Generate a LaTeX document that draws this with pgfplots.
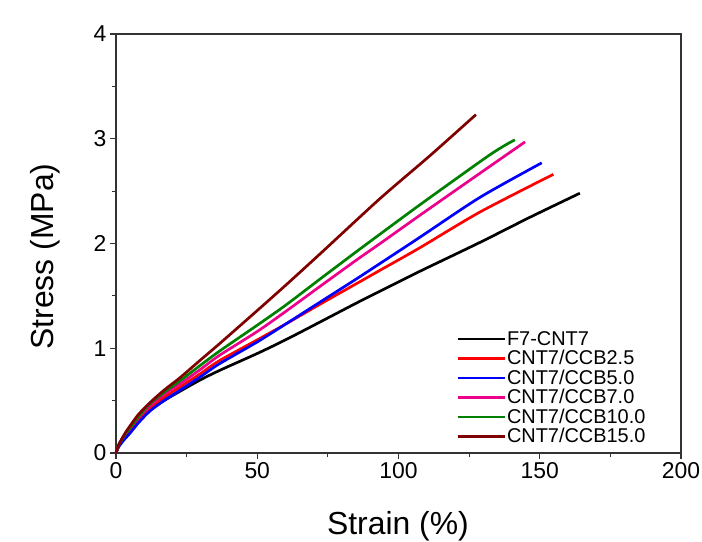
\documentclass[border=0pt]{standalone}
\usepackage{fontspec}
\setmainfont{Liberation Sans}
\usepackage{pgfplots}
\pgfplotsset{compat=1.18}
\definecolor{dgreen}{RGB}{0,128,0}
\definecolor{dbrown}{RGB}{128,0,0}
\begin{document}
\begin{tikzpicture}
\begin{axis}[
  name=ax,
  scale only axis,
  width=565bp, height=419bp,
  xmin=0, xmax=200, ymin=0, ymax=4,
  xtick={0,50,100,150,200}, ytick={0,1,2,3,4},
  minor xtick={25,75,125,175}, minor ytick={0.5,1.5,2.5,3.5},
  xtick pos=left, ytick pos=left,
  tick align=outside,
  major tick length=6bp, minor tick length=4bp,
  axis line style={line width=1.3pt, color=black!80},
  every tick/.style={line width=1.1pt, color=black!80},
  /pgf/number format/assume math mode=true,
  xticklabel={\pgfmathprintnumber{\tick}},
  yticklabel={\pgfmathprintnumber{\tick}},
  tick label style={font=\fontsize{23}{26}\selectfont},
  xlabel={Strain (\%)}, ylabel={Stress (MPa)},
  label style={font=\fontsize{32}{36}\selectfont},
  xlabel style={at={(rel axis cs:0.499,-0.174)}, anchor=center},
  ylabel style={at={(rel axis cs:-0.125,0.469)}, anchor=center},
  clip=false,
  legend style={at={(rel axis cs:0.602,0.296)}, anchor=north west, draw=none, fill=none,
    font=\fontsize{20}{22}\selectfont, inner sep=0pt, row sep=0pt,
    nodes={inner sep=1bp, minimum height=19.5bp}},
  legend cell align=left,
  legend image code/.code={\draw[#1] (0bp,0bp) -- (47bp,0bp);},
  curve/.style={line width=2.7pt, smooth, tension=0.45},
]
\addplot[black, curve] coordinates {(0,0)(1,0.07)(3,0.15)(5,0.21)(8,0.31)(12,0.41)(17,0.5)(22.7,0.59)(30,0.7)(36.8,0.79)(50,0.95)(60,1.08)(72.2,1.25)(85,1.43)(93.5,1.545)(107.6,1.735)(128.8,2.01)(146.5,2.25)(164.2,2.48)};
\addlegendentry{F7-CNT7}
\addplot[red, curve] coordinates {(0,0)(1,0.07)(3,0.16)(5,0.22)(8,0.32)(12,0.43)(17,0.53)(22.7,0.63)(30,0.76)(36.5,0.88)(50,1.08)(60,1.23)(72.2,1.42)(85,1.615)(93.5,1.745)(107.6,1.96)(128.8,2.3)(154.8,2.66)};
\addlegendentry{CNT7/CCB2.5}
\addplot[blue, curve] coordinates {(0,0)(1,0.06)(3,0.13)(5,0.19)(8,0.29)(12,0.4)(17,0.5)(22.7,0.6)(30,0.73)(36.5,0.85)(50,1.06)(60,1.23)(72.2,1.44)(85,1.66)(93.5,1.81)(107.6,2.06)(128.8,2.44)(150.7,2.77)};
\addlegendentry{CNT7/CCB5.0}
\addplot[magenta, curve] coordinates {(0,0)(1,0.08)(3,0.17)(5,0.24)(8,0.34)(12,0.45)(17,0.56)(22.7,0.66)(30,0.8)(36.5,0.93)(50,1.16)(60,1.35)(72.2,1.59)(85,1.84)(93.5,2.0)(107.6,2.27)(128.8,2.67)(144.8,2.97)};
\addlegendentry{CNT7/CCB7.0}
\addplot[dgreen, curve] coordinates {(0,0)(1,0.08)(3,0.17)(5,0.24)(8,0.35)(12,0.47)(17,0.58)(22.7,0.69)(30,0.84)(36.5,0.97)(50,1.22)(60,1.41)(72.2,1.66)(85,1.92)(93.5,2.09)(107.6,2.37)(128.8,2.78)(134.8,2.89)(138.5,2.95)(141.2,2.99)};
\addlegendentry{CNT7/CCB10.0}
\addplot[dbrown, curve] coordinates {(0,0)(1,0.08)(3,0.18)(5,0.26)(8,0.37)(12,0.48)(17,0.6)(22.7,0.72)(30,0.89)(36.5,1.04)(50,1.36)(60,1.6)(72.2,1.9)(93.5,2.43)(111.2,2.84)(127.4,3.23)};
\addlegendentry{CNT7/CCB15.0}
\end{axis}
\pgfresetboundingbox
\path[use as bounding box] ([xshift=-116bp,yshift=-89bp]ax.south west) rectangle ([xshift=21bp,yshift=34bp]ax.north east);
\end{tikzpicture}
\end{document}
